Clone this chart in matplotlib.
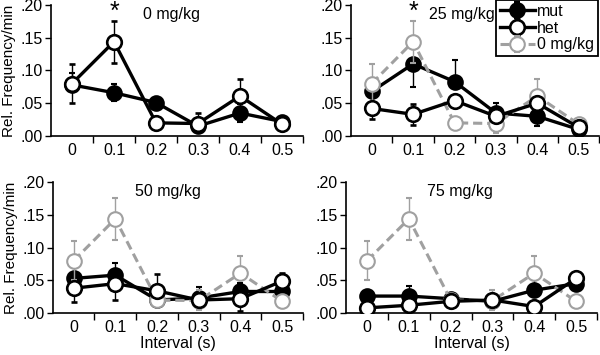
import numpy as np
import matplotlib
matplotlib.use("Agg")
import matplotlib.pyplot as plt

plt.rcParams['font.family'] = ['Liberation Sans', 'DejaVu Sans']

intervals = ['0', '0.1', '0.2', '0.3', '0.4', '0.5']
doses = ['0 mg/kg', '25 mg/kg', '50 mg/kg', '75 mg/kg']

# mean relative frequency per dose (mut = filled, het = open)
mut = {
    '0 mg/kg':  [0.078, 0.066, 0.051, 0.015, 0.035, 0.022],
    '25 mg/kg': [0.068, 0.110, 0.083, 0.035, 0.030, 0.010],
    '50 mg/kg': [0.053, 0.058, 0.020, 0.023, 0.033, 0.033],
    '75 mg/kg': [0.026, 0.026, 0.022, 0.018, 0.035, 0.045],
}
het = {
    '0 mg/kg':  [0.080, 0.144, 0.020, 0.019, 0.061, 0.018],
    '25 mg/kg': [0.042, 0.033, 0.054, 0.030, 0.050, 0.013],
    '50 mg/kg': [0.038, 0.045, 0.034, 0.020, 0.022, 0.049],
    '75 mg/kg': [0.008, 0.012, 0.018, 0.020, 0.010, 0.053],
}
# error bars (lower, upper)
mut_err = {
    '0 mg/kg':  ([0.0, 0.013, 0.0, 0.0, 0.014, 0.0], [0.018, 0.013, 0.0, 0.0, 0.014, 0.0]),
    '25 mg/kg': ([0.0, 0.035, 0.0, 0.0, 0.015, 0.0], [0.006, 0.0, 0.033, 0.015, 0.0, 0.0]),
    '50 mg/kg': ([0.0, 0.0, 0.0, 0.0, 0.0, 0.0], [0.0, 0.019, 0.0, 0.017, 0.013, 0.0]),
    '75 mg/kg': ([0.0, 0.0, 0.0, 0.0, 0.0, 0.0], [0.0, 0.015, 0.0, 0.0, 0.015, 0.0]),
}
het_err = {
    '0 mg/kg':  ([0.030, 0.032, 0.0, 0.0, 0.0, 0.0], [0.030, 0.032, 0.0, 0.016, 0.026, 0.0]),
    '25 mg/kg': ([0.016, 0.016, 0.0, 0.0, 0.0, 0.0], [0.0, 0.016, 0.0, 0.0, 0.0, 0.0]),
    '50 mg/kg': ([0.021, 0.025, 0.0, 0.0, 0.019, 0.0], [0.0, 0.0, 0.026, 0.0, 0.0, 0.013]),
    '75 mg/kg': ([0.0, 0.0, 0.0, 0.0, 0.0, 0.0], [0.0, 0.0, 0.0, 0.0, 0.0, 0.0]),
}
ctrl = het['0 mg/kg']
ctrl_err = ([0.030, 0.032, 0.0, 0.014, 0.0, 0.0], [0.030, 0.032, 0.0, 0.016, 0.026, 0.0])

gray = '#a0a0a0'
fig = plt.figure(figsize=(6, 3.55), dpi=100)
boxes = [
    [0.085, 0.617, 0.42, 0.369],
    [0.585, 0.617, 0.414, 0.369],
    [0.088, 0.118, 0.417, 0.369],
    [0.577, 0.118, 0.418, 0.369],
]
x = np.arange(len(intervals))
title_x = [0.48, 0.445, 0.46, 0.455]

for i, dose in enumerate(doses):
    ax = fig.add_axes(boxes[i])
    if dose != '0 mg/kg':
        ax.errorbar(x, ctrl, yerr=ctrl_err, color=gray, ls=(0, (3, 1.6)), lw=2.2,
                    marker='o', ms=10.5, mfc='white', mec=gray, mew=1.5,
                    ecolor=gray, elinewidth=1, capsize=2.5, label='0 mg/kg', zorder=3)
    ax.errorbar(x, mut[dose], yerr=mut_err[dose], color='black', lw=2.4,
                marker='o', ms=10.5, mfc='black', mec='black', mew=1.5,
                ecolor='black', elinewidth=1, capsize=2.5, label='mut', zorder=2)
    ax.errorbar(x, het[dose], yerr=het_err[dose], color='black', lw=2.4,
                marker='o', ms=10.5, mfc='white', mec='black', mew=1.9,
                ecolor='black', elinewidth=1, capsize=2.5, label='het', zorder=4)

    ax.set_xlim(-0.5, 5.5)
    ax.set_ylim(0, 0.2)
    ax.set_yticks([0, 0.05, 0.10, 0.15, 0.20])
    ax.set_yticklabels(['.00', '.05', '.10', '.15', '.20'])
    ax.set_xticks(np.arange(0.5, 6.0, 1.0))
    ax.set_xticklabels([])
    ax.set_xticks(x, minor=True)
    ax.set_xticklabels(intervals, minor=True)
    ax.tick_params(axis='x', which='minor', length=0, pad=5, labelsize=11.5)
    ax.tick_params(axis='x', which='major', length=5, width=1, direction='out')
    ax.tick_params(axis='y', length=4, width=1, labelsize=11.5, pad=2)
    ax.spines['top'].set_visible(False)
    ax.spines['right'].set_visible(False)
    ax.spines['left'].set_linewidth(1.2)
    ax.spines['bottom'].set_linewidth(1.2)
    ax.text(title_x[i], 0.93, dose, transform=ax.transAxes, ha='center', va='center', fontsize=11.5)

    if i in (0, 1):
        ax.text(1, 0.19, '*', ha='center', va='center', fontsize=18)
    if i in (0, 2):
        ax.set_ylabel('Rel. Frequency/min', fontsize=11, labelpad=3)
    if i in (2, 3):
        ax.set_xlabel('Interval (s)', fontsize=11.5, labelpad=1)
    if i == 1:
        h, l = ax.get_legend_handles_labels()
        order = [l.index('mut'), l.index('het'), l.index('0 mg/kg')]
        leg = ax.legend([h[k] for k in order], [l[k] for k in order],
                        loc='upper right', bbox_to_anchor=(0.996, 1.0),
                        bbox_transform=fig.transFigure, borderaxespad=0,
                        fancybox=False, framealpha=1, edgecolor='black',
                        fontsize=11.5, handlelength=2.2, handletextpad=0.1,
                        borderpad=0.25, labelspacing=0.1)
        leg.get_frame().set_linewidth(1.3)

fig.savefig('out.png', dpi=100)
